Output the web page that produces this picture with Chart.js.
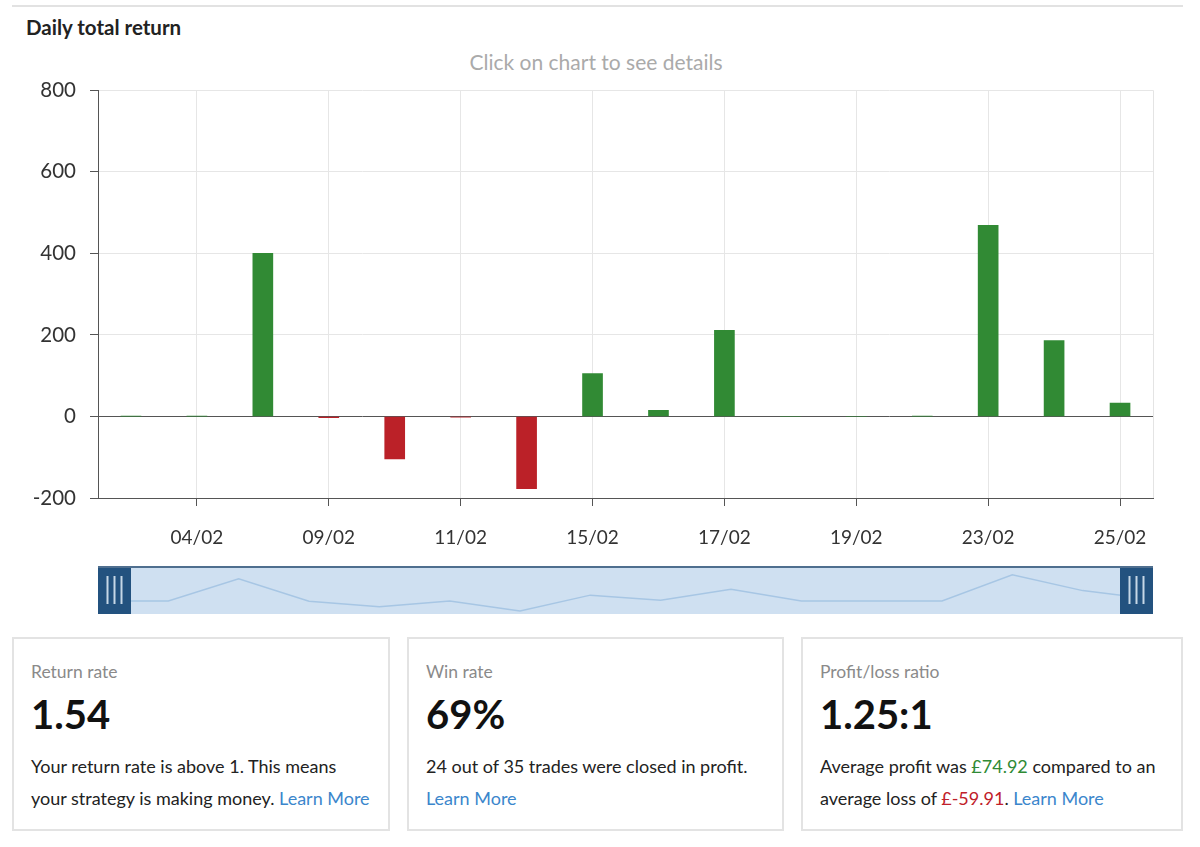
<!DOCTYPE html>
<html>
<head>
<meta charset="utf-8">
<script src="https://cdn.jsdelivr.net/npm/chart.js@4.4.1/dist/chart.umd.min.js"></script>
<style>
  body { margin: 0; background: #fff; font-family: Lato, "Noto Sans", sans-serif; color: #111; }
  .topline { position: absolute; left: 12px; top: 5px; width: 1171px; height: 0; border-top: 2px solid #e2e2e2; }
  .title { position: absolute; left: 26px; top: 15px; font-size: 20.5px; font-weight: bold; color: #222; }
  .sub { position: absolute; left: 0; width: 1192px; top: 49px; text-align: center; font-size: 21px; color: #aaa; }
  #mainWrap { position: absolute; left: 0; top: 64px; width: 1200px; height: 506px; }
  #navWrap { position: absolute; left: 98px; top: 566px; width: 1055px; height: 48px; }
  .card { position: absolute; top: 637px; height: 194px; border: 2px solid #e3e3e3; box-sizing: border-box; padding: 22px 0 0 17px; }
  .card .lbl { font-size: 17.5px; color: #8a8a8a; }
  .card .big { font-size: 40px; font-weight: bold; color: #111; margin-top: 9px; line-height: 46px; }
  .card .txt { font-size: 18px; line-height: 32px; margin-top: 13px; color: #222; }
  .lnk { color: #3b86cc; }
  .g { color: #2f8a34; }
  .r { color: #c0202a; }
</style>
</head>
<body>
<div class="topline"></div>
<div class="title">Daily total return</div>
<div class="sub">Click on chart to see details</div>
<div id="mainWrap"><canvas id="mainChart"></canvas></div>
<div id="navWrap"><canvas id="navChart"></canvas></div>

<div class="card" style="left:12px;width:378px;">
  <div class="lbl">Return rate</div>
  <div class="big">1.54</div>
  <div class="txt">Your return rate is above 1. This means<br>your strategy is making money. <span class="lnk">Learn More</span></div>
</div>
<div class="card" style="left:407px;width:377px;">
  <div class="lbl">Win rate</div>
  <div class="big">69%</div>
  <div class="txt">24 out of 35 trades were closed in profit.<br><span class="lnk">Learn More</span></div>
</div>
<div class="card" style="left:801px;width:382px;">
  <div class="lbl">Profit/loss ratio</div>
  <div class="big">1.25:1</div>
  <div class="txt">Average profit was <span class="g">£74.92</span> compared to an<br>average loss of <span class="r">£-59.91</span>. <span class="lnk">Learn More</span></div>
</div>

<script>
const days = ["03/02", "04/02", "08/02", "09/02", "10/02", "11/02", "12/02", "15/02",
  "16/02", "17/02", "18/02", "19/02", "22/02", "23/02", "24/02", "25/02"];
const dailyReturn = [1, 1, 400, -3, -104, -2, -177, 105, 15, 211, 0, 0, 1, 469, 186, 33];
const yTicks = [-200, 0, 200, 400, 600, 800];

const green = "#318a34";
const red = "#bb2128";

Chart.defaults.font.family = "Lato, 'Noto Sans', sans-serif";
Chart.defaults.animation = false;

// right border of plot area
const rightEdge = {
  id: "rightEdge",
  afterDraw(chart) {
    const a = chart.chartArea;
    const c = chart.ctx;
    c.save();
    c.strokeStyle = "#e4e4e4";
    c.lineWidth = 1;
    c.beginPath();
    c.moveTo(a.right + 0.5, a.top);
    c.lineTo(a.right + 0.5, a.bottom);
    c.stroke();
    c.restore();
  }
};

new Chart(document.getElementById("mainChart"), {
  type: "bar",
  data: {
    labels: days,
    datasets: [{
      data: dailyReturn,
      backgroundColor: (ctx) => (ctx.raw >= 0 ? green : red),
      barThickness: 20,
    }],
  },
  options: {
    responsive: true,
    maintainAspectRatio: false,
    layout: { padding: { top: 15, right: 47, left: 0, bottom: 0 } },
    plugins: { legend: { display: false }, tooltip: { enabled: false } },
    scales: {
      x: {
        offset: true,
        grid: {
          offset: false,
          color: (ctx) => (ctx.index % 2 ? "#e6e6e6" : "rgba(0,0,0,0)"),
          tickColor: (ctx) => (ctx.index % 2 ? "#555" : "rgba(0,0,0,0)"),
          tickLength: 8,
        },
        border: { color: "#555", width: 1 },
        ticks: {
          autoSkip: false,
          maxRotation: 0,
          padding: 20,
          color: "#333",
          font: { size: 19 },
          callback: (v, i) => (i % 2 ? days[i] : ""),
        },
        afterFit: (s) => { s.height = 72; },
      },
      y: {
        min: yTicks[0],
        max: yTicks[yTicks.length - 1],
        afterBuildTicks: (s) => { s.ticks = yTicks.map((v) => ({ value: v })); },
        grid: {
          color: (ctx) => (ctx.tick && ctx.tick.value === 0 ? "#555" : "#e6e6e6"),
          tickColor: "#555",
          tickLength: 8,
        },
        border: { color: "#555", width: 1 },
        ticks: { color: "#333", font: { size: 20.5 }, padding: 14 },
        afterFit: (s) => { s.width = 98; },
      },
    },
  },
  plugins: [rightEdge],
});

// navigator strip under the chart
const navDecor = {
  id: "navDecor",
  beforeDraw(chart) {
    const c = chart.ctx;
    c.save();
    c.fillStyle = "#cfe0f1";
    c.fillRect(0, 0, chart.width, chart.height);
    c.restore();
  },
  afterDraw(chart) {
    const c = chart.ctx;
    const w = chart.width, h = chart.height;
    c.save();
    c.fillStyle = "#23527f";
    c.fillRect(0, 0, 33, h);
    c.fillRect(w - 33, 0, 33, h);
    c.fillStyle = "#4f6f8f";
    c.fillRect(0, 0, w, 2);
    c.strokeStyle = "#c6d7e6";
    c.lineWidth = 2;
    [[0, 33], [w - 33, w]].forEach(([l, r]) => {
      const m = (l + r) / 2;
      [-7, 0, 7].forEach((d) => {
        c.beginPath();
        c.moveTo(m + d, 10);
        c.lineTo(m + d, h - 10);
        c.stroke();
      });
    });
    c.restore();
  }
};

new Chart(document.getElementById("navChart"), {
  type: "line",
  data: {
    labels: days,
    datasets: [{
      data: dailyReturn,
      borderColor: "#a7c6e4",
      borderWidth: 1.5,
      pointRadius: 0,
      tension: 0,
      fill: false,
    }],
  },
  options: {
    responsive: true,
    maintainAspectRatio: false,
    layout: { padding: 0 },
    plugins: { legend: { display: false }, tooltip: { enabled: false } },
    scales: {
      x: { display: false, offset: false },
      y: { display: false, min: -233, max: 627 },
    },
  },
  plugins: [navDecor],
});
</script>
</body>
</html>
